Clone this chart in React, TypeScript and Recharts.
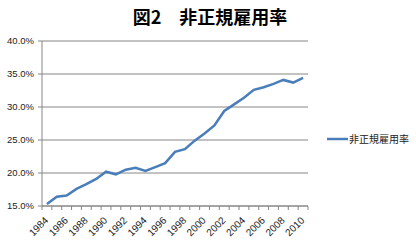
import React from 'react';
import { LineChart, Line, XAxis, YAxis, CartesianGrid } from 'recharts';

const years = [
  1984, 1985, 1986, 1987, 1988, 1989, 1990, 1991, 1992, 1993, 1994, 1995, 1996, 1997,
  1998, 1999, 2000, 2001, 2002, 2003, 2004, 2005, 2006, 2007, 2008, 2009, 2010,
];
const rates = [
  0.153, 0.164, 0.166, 0.176, 0.183, 0.191, 0.202, 0.198, 0.205, 0.208, 0.203, 0.209, 0.215, 0.232,
  0.236, 0.249, 0.26, 0.272, 0.294, 0.304, 0.314, 0.326, 0.33, 0.335, 0.341, 0.337, 0.344,
];
const yTicks = [0.15, 0.2, 0.25, 0.3, 0.35, 0.4];
const labelYears = [1984, 1986, 1988, 1990, 1992, 1994, 1996, 1998, 2000, 2002, 2004, 2006, 2008, 2010];
const seriesName = '非正規雇用率';
const title = '図2　非正規雇用率';

const data = years.map((year, i) => ({ year, rate: rates[i] }));
// tick marks sit between categories, labels on every other category
const boundaries = [...years.map((y) => y - 0.5), years[years.length - 1] + 0.5];
const xTicks = [...boundaries, ...labelYears].sort((a, b) => a - b);

const AXIS = '#868686';
const LINE = '#4A7EBB';
const FONT = '"Liberation Sans", Arial, sans-serif';
const CJK = '"Noto Sans CJK JP", sans-serif';

const XTick = (props: any) => {
  const { x, y, payload } = props;
  const v = payload.value;
  if (!Number.isInteger(v)) {
    return <line x1={x} x2={x} y1={y} y2={y + 4} stroke={AXIS} />;
  }
  const px = x + 2;
  const py = y + 15;
  return (
    <text
      x={px}
      y={py}
      transform={`rotate(-45 ${px} ${py})`}
      textAnchor="end"
      fontSize={10}
      fontFamily={FONT}
      fill="#222"
    >
      {v}
    </text>
  );
};

export default function App() {
  return (
    <div style={{ position: 'absolute', left: 0, top: 0, width: 416, height: 245, background: '#fff' }}>
      <div
        style={{
          position: 'absolute',
          left: 0,
          width: 416,
          top: 3,
          textAlign: 'center',
          fontFamily: CJK,
          fontWeight: 700,
          fontSize: 18,
          lineHeight: '26px',
          color: '#000',
          paddingLeft: 2,
        }}
      >
        {title}
      </div>
      <LineChart width={416} height={245} data={data} margin={{ top: 41, right: 108, bottom: 0, left: 0 }}>
        <CartesianGrid vertical={false} stroke={AXIS} />
        <XAxis
          dataKey="year"
          type="number"
          domain={[1983.5, 2010.5]}
          ticks={xTicks}
          interval={0}
          tickSize={0}
          tickMargin={0}
          height={39}
          stroke={AXIS}
          tick={<XTick />}
        />
        <YAxis
          type="number"
          domain={[0.15, 0.4]}
          ticks={yTicks}
          width={42}
          tickSize={4}
          tickMargin={4}
          stroke={AXIS}
          tick={{ fontSize: 9.5, fontFamily: FONT, fill: '#222' }}
          tickFormatter={(v: number) => `${(v * 100).toFixed(1)}%`}
        />
        <Line
          type="linear"
          dataKey="rate"
          name={seriesName}
          stroke={LINE}
          strokeWidth={2.5}
          dot={false}
          isAnimationActive={false}
        />
      </LineChart>
      <div
        style={{
          position: 'absolute',
          left: 327,
          top: 131,
          display: 'flex',
          alignItems: 'center',
          fontFamily: CJK,
          fontSize: 10,
          color: '#222',
          lineHeight: '16px',
        }}
      >
        <svg width={21} height={16}>
          <line x1={0} x2={21} y1={8} y2={8} stroke={LINE} strokeWidth={2.5} />
        </svg>
        <span style={{ marginLeft: 1 }}>{seriesName}</span>
      </div>
    </div>
  );
}
